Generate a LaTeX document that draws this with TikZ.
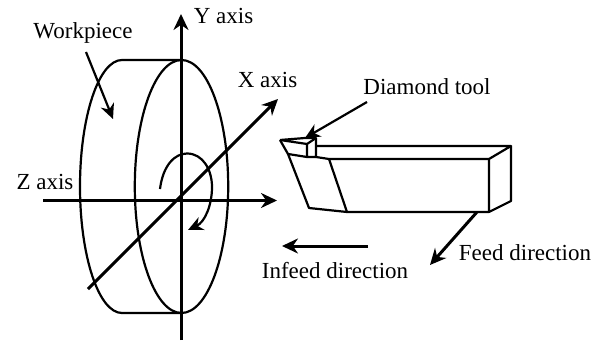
\documentclass[tikz,border=0pt]{standalone}
\usepackage{fontspec}
\setmainfont{Liberation Serif}
\usetikzlibrary{arrows.meta}

\begin{document}
\begin{tikzpicture}[x=1pt, y=-1pt, line join=round,
            label/.style={inner sep=0pt, font=\fontsize{23}{25}\selectfont},
            axisline/.style={line width=3pt, -{Stealth[length=16pt, width=15pt]}},
            pointer/.style={line width=2.2pt, -{Stealth[length=15pt, width=14pt]}},
            outline/.style={line width=2.2pt}]
            \useasboundingbox (0,0) rectangle (605,342);
            % labels
            \node[label] (workpiece) at (83,33) {Workpiece};
            \node[label] (yaxis) at (223.5,16) {Y axis};
            \node[label] (xaxis) at (267.5,80) {X axis};
            \node[label] (zaxis) at (45,182) {Z axis};
            \node[label] (diamond) at (427,87) {Diamond tool};
            \node[label] (feed) at (525,253) {Feed direction};
            \node[label] (infeed) at (335,271) {Infeed direction};
            % axis ends
            \coordinate (ybot) at (181,340);
            \coordinate (ytop) at (181,14);
            \coordinate (zleft) at (43,200.5);
            \coordinate (zright) at (277,200.5);
            \coordinate (xbot) at (88,289);
            \coordinate (xtop) at (278,99);
            % workpiece
            \draw[outline] (181.5,186.5) ellipse [x radius=46.7pt, y radius=126.5pt];
            \draw[outline] (181,60) -- (122,60) .. controls (98.8,60) and (80,116.6) .. (80,186.5)
                .. controls (80,256.4) and (98.8,313) .. (122,313) -- (181,313);
            \draw[axisline] (ybot) -- (ytop);
            \draw[axisline] (zleft) -- (zright);
            \draw[axisline] (xbot) -- (xtop);
            \draw[pointer] (160,189) .. controls (163,165) and (175,153.5) .. (187,153.5)
                .. controls (203,153.5) and (212,170) .. (212,187)
                .. controls (212,205) and (205,222) .. (188,230);
            % tool corners
            \coordinate (tip) at (280,140);
            \coordinate (itop) at (305,138);
            \coordinate (iback) at (316,138);
            \coordinate (ifront) at (307,144);
            \coordinate (ifoot) at (307,157);
            \coordinate (ibackfoot) at (316,157);
            \coordinate (heel) at (288,154);
            \coordinate (a) at (329,159);
            \coordinate (b) at (489,159);
            \coordinate (c) at (511,146);
            \coordinate (d) at (316,146);
            \coordinate (e) at (511,201);
            \coordinate (f) at (489,212);
            \coordinate (g) at (347,212);
            \coordinate (h) at (309,208);
            \draw[outline] (tip) -- (itop) -- (iback) -- (ibackfoot) -- (ifoot) -- (ifront) -- (tip);
            \draw[outline] (ifront) -- (iback);
            \draw[outline] (tip) -- (heel) -- (ifoot);
            \draw[outline] (ibackfoot) -- (a) -- (b) -- (c) -- (d);
            \draw[outline] (c) -- (e) -- (f) -- (b);
            \draw[outline] (f) -- (g) -- (h) -- (heel);
            \draw[outline] (a) -- (g);
            % pointers
            \draw[pointer] (86,52) -- (113,119);
            \draw[pointer] (367,102) -- (305,138);
            \draw[axisline] (477,212) -- (430,265);
            \draw[axisline] (368,246) -- (282,246);
        \end{tikzpicture}
\end{document}
